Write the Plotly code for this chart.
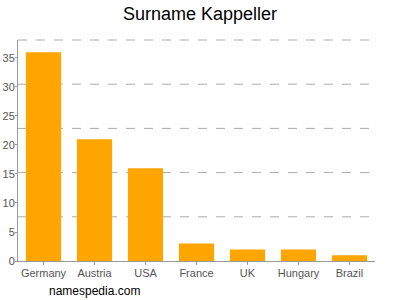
import plotly.graph_objects as go

countries = ["Germany", "Austria", "USA", "France", "UK", "Hungary", "Brazil"]
counts = [36, 21, 16, 3, 2, 2, 1]
y_ticks = [0, 5, 10, 15, 20, 25, 30, 35]

fig = go.Figure(go.Bar(x=countries, y=counts, marker_color="#FFA500",
                       marker_line_width=0))

shapes = []
for f in [0.2, 0.4, 0.6, 0.8, 1.0]:
    shapes.append(dict(type="line", xref="paper", yref="paper", x0=0, x1=1,
                       y0=f, y1=f, line=dict(color="#aaaaaa", width=1, dash="dash"),
                       layer="below"))

fig.update_layout(
    width=400, height=300,
    margin=dict(l=18, r=25, t=40, b=39),
    paper_bgcolor="white", plot_bgcolor="white",
    bargap=0.31,
    showlegend=False,
    font=dict(family="Liberation Sans, Arial, sans-serif", color="#555555", size=11),
    title=dict(text="Surname Kappeller", x=0.5, xanchor="center", y=0.955, yanchor="middle",
               font=dict(size=18, color="black")),
    shapes=shapes,
    annotations=[dict(text="namespedia.com", xref="paper", yref="paper",
                      x=0.081, y=-0.136, xanchor="left", yanchor="middle",
                      showarrow=False, font=dict(size=12, color="black"))],
    xaxis=dict(showline=True, linecolor="#999999", ticks="outside", ticklen=3,
               tickcolor="#999999", showgrid=False, automargin=False,
               ticklabelstandoff=-1),
    yaxis=dict(range=[0, 38.1], tickvals=y_ticks, showline=True, linecolor="#999999",
               ticks="outside", ticklen=2, tickcolor="#999999", showgrid=False,
               zeroline=False, automargin=False, ticklabelstandoff=-2),
)

fig.write_html("out.html")
